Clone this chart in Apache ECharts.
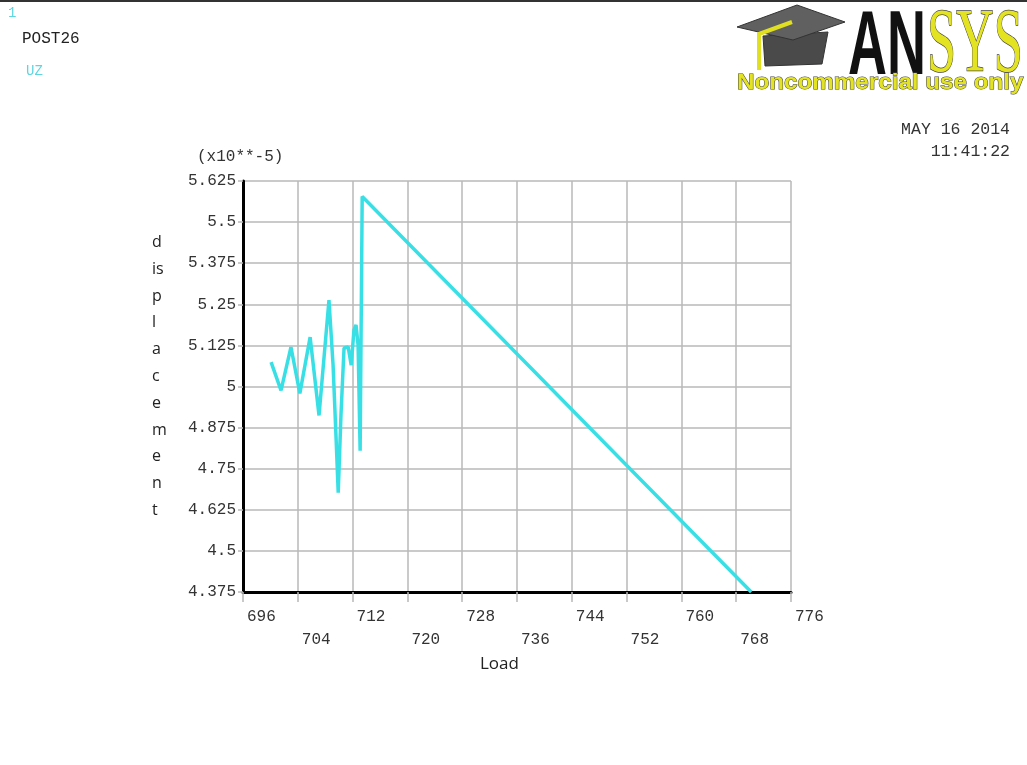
<!DOCTYPE html>
<html><head><meta charset="utf-8">
<script src="https://cdn.jsdelivr.net/npm/echarts@6/dist/echarts.min.js"></script>
<style>html,body{margin:0;padding:0;background:#fff}#c{width:1027px;height:765px}</style>
</head><body><div id="c"></div>
<script>
// Load values (x) and UZ displacement (x10**-5)
const loadValues = [700.1, 701.55, 703.0, 704.3, 705.8, 707.1, 708.55, 709.15, 709.6, 709.9, 710.3, 710.75, 711.35, 711.8, 712.2, 712.5, 712.8, 713.1, 713.4, 770.2];
const uzValues   = [5.074, 4.988, 5.120, 4.979, 5.150, 4.912, 5.263, 5.065, 4.836, 4.677, 4.912, 5.117, 5.120, 5.065, 5.172, 5.187, 5.126, 4.805, 5.578, 4.375];
const xTicks = [696, 704, 712, 720, 728, 736, 744, 752, 760, 768, 776];
const yTicks = [4.375, 4.5, 4.625, 4.75, 4.875, 5, 5.125, 5.25, 5.375, 5.5, 5.625];

const mono = 'Liberation Mono';
const chart = echarts.init(document.getElementById('c'));
const data = loadValues.map((x, i) => [x, uzValues[i]]);
const gridCol = '#b8b8b8';
const xRow = (row) => (v) => {
  const i = xTicks.indexOf(Math.round(v));
  return (i % 2 === row) ? String(Math.round(v)) : '';
};
chart.setOption({
  animation: false,
  grid: { left: 243, top: 181, right: 236, bottom: 173 },
  xAxis: [{
    type: 'value', min: xTicks[0], max: xTicks[xTicks.length - 1], interval: 8,
    axisLine: { show: true, onZero: false, lineStyle: { color: '#000', width: 3 } },
    axisTick: { show: true, length: 10, lineStyle: { color: gridCol, width: 1.5 } },
    splitLine: { show: true, lineStyle: { color: gridCol, width: 1.5 } },
    axisLabel: { formatter: xRow(0), margin: 17, align: 'left', padding: [0, 0, 0, 4], color: '#333', fontFamily: mono, fontSize: 16 }
  }, {
    type: 'value', position: 'bottom', min: xTicks[0], max: xTicks[xTicks.length - 1], interval: 8,
    axisLine: { show: false }, axisTick: { show: false }, splitLine: { show: false },
    axisLabel: { formatter: xRow(1), margin: 40, align: 'left', padding: [0, 0, 0, 4], color: '#333', fontFamily: mono, fontSize: 16 }
  }],
  yAxis: {
    type: 'value', min: yTicks[0], max: yTicks[yTicks.length - 1], interval: 0.125,
    axisLine: { show: true, onZero: false, lineStyle: { color: '#000', width: 3 } },
    axisTick: { show: true, length: 5, lineStyle: { color: gridCol, width: 1.5 } },
    splitLine: { show: true, lineStyle: { color: gridCol, width: 1.5 } },
    axisLabel: { margin: 7, color: '#333', fontFamily: mono, fontSize: 16,
      formatter: (v) => String(Math.round(v * 1000) / 1000) }
  },
  series: [{
    type: 'line', data: data, showSymbol: false, symbol: 'none', clip: true,
    lineStyle: { color: '#38e0e6', width: 3.5 }
  }],
  graphic: [
    { type: 'rect', left: 0, top: 0, shape: { width: 1027, height: 2 }, style: { fill: '#333' } },
    { type: 'text', left: 8, top: 6, style: { text: '1', fill: '#5ed6e0', font: '14px ' + mono } },
    { type: 'text', left: 22, top: 31, style: { text: 'POST26', fill: '#222', font: '16px ' + mono } },
    { type: 'text', left: 26, top: 64, style: { text: 'UZ', fill: '#5ed6e0', font: '14px ' + mono } },
    { type: 'text', right: 17, top: 121, style: { text: 'MAY 16 2014', fill: '#333', font: '16.5px ' + mono, align: 'right' } },
    { type: 'text', right: 17, top: 143, style: { text: '11:41:22', fill: '#333', font: '16.5px ' + mono, align: 'right' } },
    { type: 'text', left: 197, top: 149, style: { text: '(x10**-5)', fill: '#333', font: '16px ' + mono } },
    { type: 'text', left: 480, top: 656, style: { text: 'Load', fill: '#222', font: '17px "Open Sans"', align: 'center' } },
    { type: 'text', left: 152, top: 229, style: { text: 'd\nis\np\nl\na\nc\ne\nm\ne\nn\nt', fill: '#222', font: '16px "Open Sans"', lineHeight: 26.8, align: 'left' } },
    // ANSYS logo
    { type: 'polygon', shape: { points: [[763, 36], [828, 32], [822, 64], [765, 66]] }, style: { fill: '#4a4a4a', stroke: '#333', lineWidth: 1 } },
    { type: 'polygon', shape: { points: [[737, 27], [797, 5], [845, 22], [793, 40]] }, style: { fill: '#606060', stroke: '#333', lineWidth: 1 } },
    { type: 'polyline', shape: { points: [[792, 22], [759, 34], [759, 70]] }, style: { stroke: '#e0e020', lineWidth: 4 } },
    { type: 'text', x: 848, y: 4, scaleX: 0.6, style: { text: 'AN', fill: '#111', font: 'bold 90px "Liberation Sans"' } },
    { type: 'text', x: 927, y: 2, scaleX: 0.58, style: { text: 'SYS', fill: '#e3e322', stroke: '#444', lineWidth: 1.5, font: '90px "Liberation Serif"' } },
    { type: 'text', x: 737, y: 72, scaleX: 1.1, style: { text: 'Noncommercial use only', fill: '#e3e322', stroke: '#444', lineWidth: 1, font: 'bold 22px "Liberation Sans"' } }
  ]
});
</script></body></html>
